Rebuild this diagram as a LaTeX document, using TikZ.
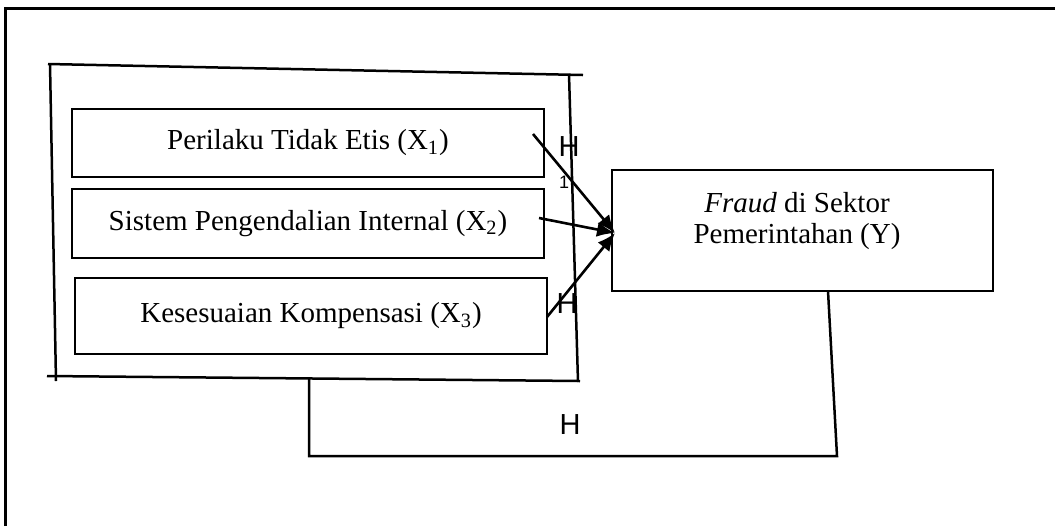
\documentclass[tikz,border=0pt]{standalone}
\usepackage{fontspec}
\setmainfont{Liberation Serif}
\newfontfamily\hsans{Liberation Sans}
\usetikzlibrary{arrows.meta}
\begin{document}
\begin{tikzpicture}[x=0.5pt,y=-0.5pt,
  varbox/.style={draw, line width=1.3pt, inner sep=0pt, outer sep=0pt,
    font=\fontsize{14.5}{15.5}\selectfont, align=center},
  vtext/.style={font=\fontsize{14.5}{15.5}\selectfont, align=center, inner sep=0pt},
  hline/.style={line width=1.25pt},
  conn/.style={line width=1.3pt, -{Latex[length=9pt,width=7.5pt]}},
  hlab/.style={font=\hsans\fontsize{14.5}{17}\selectfont, inner sep=0pt},
  frame/.style={line width=1.5pt}]
\useasboundingbox (0,0) rectangle (1055,526);
% outer frame (top and left only)
\draw[frame] (5,526) -- (5,8) -- (1055,8);
% group box (hand drawn)
\draw[hline] (48,64) -- (583,75);
\draw[hline] (50,64) -- (56,381);
\draw[hline] (47,376) -- (580,381);
\draw[hline] (569,74) -- (578,382);
% variable boxes
\node[varbox, minimum width=236pt, minimum height=34pt] (x1) at (308,143) {Perilaku Tidak Etis (X\textsubscript{1})};
\node[varbox, minimum width=236pt, minimum height=34.5pt] (x2) at (308,223.5) {Sistem Pengendalian Internal (X\textsubscript{2})};
\node[varbox, minimum width=236pt, minimum height=38pt] (x3) at (311,316) {Kesesuaian Kompensasi (X\textsubscript{3})};
\node[varbox, minimum width=190.5pt, minimum height=60.5pt] (y) at (802.5,230.5) {};
\node[vtext] (ytext) at (797,221) {\textit{Fraud} di Sektor\\Pemerintahan (Y)};
% connectors
\coordinate (s1) at (533,134);
\coordinate (s2) at (539,218);
\coordinate (s3) at (547,317);
\coordinate (tip) at (615,233);
\draw[conn] (s1) -- (tip);
\draw[conn] (s2) -- (tip);
\draw[conn] (s3) -- (tip);
% loop line
\coordinate (l1) at (309,378);
\coordinate (l2) at (309,456);
\coordinate (l3) at (837,456);
\coordinate (l4) at (828,291);
\draw[hline] (l1) -- (l2) -- (l3) -- (l4);
% labels
\node[hlab] (h1) at (569,147) {H};
\node[font=\hsans\fontsize{9}{10}\selectfont, inner sep=0pt] (h1s) at (564,182) {1};
\node[hlab] (h2) at (567,304) {H};
\node[hlab] (h3) at (570,425) {H};
\end{tikzpicture}
\end{document}
